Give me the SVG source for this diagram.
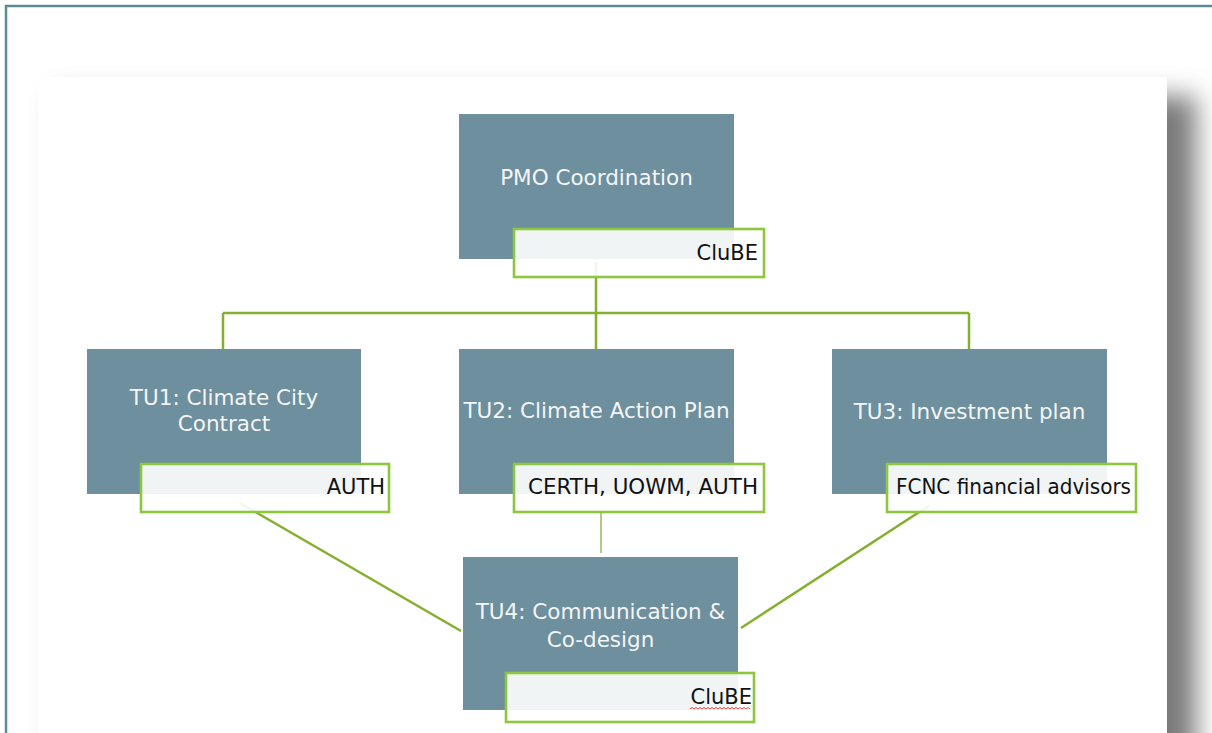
<svg xmlns="http://www.w3.org/2000/svg" width="1212" height="733" viewBox="0 0 1212 733">
<defs>
<filter id="sh" filterUnits="userSpaceOnUse" x="0" y="0" width="1212" height="733">
<feGaussianBlur stdDeviation="13"/>
</filter>
<style>
.box{fill:#6e8f9d}
.lbl{fill:#ffffff;fill-opacity:0.9;stroke:#8dc63f;stroke-width:2.6}
.wt{font-family:"DejaVu Sans",Verdana,sans-serif;font-size:21.5px;fill:#f4f6f7;text-anchor:middle}
.bt{font-family:"DejaVu Sans",Verdana,sans-serif;font-size:21px;fill:#111111;text-anchor:end}
.con{stroke:#84b02f;stroke-width:2.5;fill:none}
</style>
</defs>
<rect x="0" y="0" width="1212" height="733" fill="#ffffff"/>
<path d="M6 733 V6 H1212" fill="none" stroke="#5f8a94" stroke-width="2.5"/>
<rect x="58" y="96" width="1138" height="680" fill="#7a7a7a" filter="url(#sh)"/>
<rect x="38" y="77" width="1129" height="670" fill="#ffffff"/>
<g id="connectors">
<path class="con" d="M596 262 V313 M223 313 H969 M223 313 V349 M596 313 V349 M969 313 V349"/>
<path class="con" d="M240 503 L461 631"/>
<path class="con" d="M930 505 L741 628"/>
<path d="M601 512 V553" stroke="#9cc063" stroke-width="1.6" fill="none"/>
</g>
<g id="pmo">
<rect class="box" x="459" y="114" width="275" height="145"/>
<text class="wt" x="596.5" y="185">PMO Coordination</text>
<rect class="lbl" x="514" y="229" width="250" height="48"/>
<text class="bt" x="758" y="260">CluBE</text>
</g>
<g id="tu1">
<rect class="box" x="87" y="349" width="274" height="145"/>
<text class="wt" x="224" y="405">TU1: Climate City</text>
<text class="wt" x="224" y="431">Contract</text>
<rect class="lbl" x="141" y="464" width="248" height="48"/>
<text class="bt" x="385" y="494">AUTH</text>
</g>
<g id="tu2">
<rect class="box" x="459" y="349" width="275" height="145"/>
<text class="wt" x="596.5" y="418">TU2: Climate Action Plan</text>
<rect class="lbl" x="514" y="464" width="250" height="48"/>
<text class="bt" x="758" y="494" textLength="230" lengthAdjust="spacingAndGlyphs">CERTH, UOWM, AUTH</text>
</g>
<g id="tu3">
<rect class="box" x="832" y="349" width="275" height="145"/>
<text class="wt" x="969.5" y="419">TU3: Investment plan</text>
<rect class="lbl" x="887" y="464" width="249" height="48"/>
<text class="bt" x="1131" y="494" textLength="235" lengthAdjust="spacingAndGlyphs">FCNC financial advisors</text>
</g>
<g id="tu4">
<rect class="box" x="463" y="557" width="275" height="153"/>
<text class="wt" x="600.5" y="619">TU4: Communication &amp;</text>
<text class="wt" x="600.5" y="647">Co-design</text>
<rect class="lbl" x="506" y="673" width="248" height="49"/>
<text class="bt" x="752" y="704">CluBE</text>
<path d="M690 709 l2 -1.5 l2 1.5 l2 -1.5 l2 1.5 l2 -1.5 l2 1.5 l2 -1.5 l2 1.5 l2 -1.5 l2 1.5 l2 -1.5 l2 1.5 l2 -1.5 l2 1.5 l2 -1.5 l2 1.5 l2 -1.5 l2 1.5 l2 -1.5 l2 1.5 l2 -1.5 l2 1.5 l2 -1.5 l2 1.5 l2 -1.5 l2 1.5 l2 -1.5 l2 1.5 l2 -1.5 l2 1.5" fill="none" stroke="#e03030" stroke-width="0.9"/>
</g>
</svg>
